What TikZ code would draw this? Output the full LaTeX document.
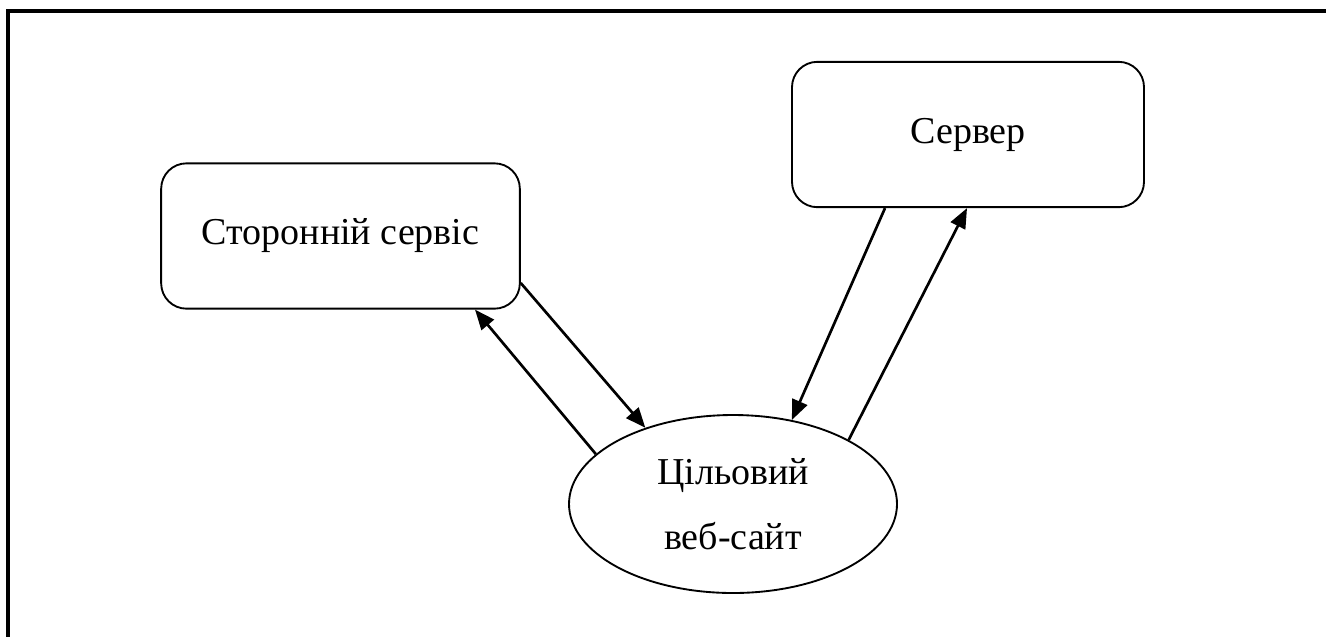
\documentclass[tikz,border=0pt]{standalone}
\usepackage{fontspec}
\setmainfont{Liberation Serif}
\usetikzlibrary{arrows.meta,shapes.geometric}
\begin{document}
\begin{tikzpicture}[x=0.75pt,y=-0.75pt,
  box/.style={draw,line width=1.4pt,rounded corners=19pt,minimum width=269pt,minimum height=109pt,inner sep=0pt,font=\fontsize{28.5}{34}\selectfont},
  oval/.style={draw,ellipse,line width=1.4pt,minimum width=246pt,minimum height=133.5pt,inner sep=0pt,align=center,font=\fontsize{28.5}{48.75}\selectfont},
  link/.style={line width=2pt,-{Triangle[length=15pt,width=12pt]}},
  frame/.style={line width=2.3pt}]
\useasboundingbox (0,0) rectangle (1326,637);
% outer frame: top and left edges
\coordinate (fa) at (1326,11);
\coordinate (fb) at (8,11);
\coordinate (fc) at (8,637);
\draw[frame] (fa) -- (fb) -- (fc);
% nodes
\node[box] (ext) at (340.5,236) {Сторонній сервіс};
\node[box,minimum width=264pt] (srv) at (968,134.5) {Сервер};
\node[oval] (site) at (733,504) {Цільовий\\веб-сайт};
% connectors
\draw[link] (site.160) -- ([shift={(134.5,0)}]ext.south);
\draw[link] ([shift={(0,47)}]ext.east) -- (site.139);
\draw[link] ([shift={(-83,0)}]srv.south) -- (site.55);
\draw[link] (site.29) -- ([shift={(-1,0)}]srv.south);
\end{tikzpicture}
\end{document}
